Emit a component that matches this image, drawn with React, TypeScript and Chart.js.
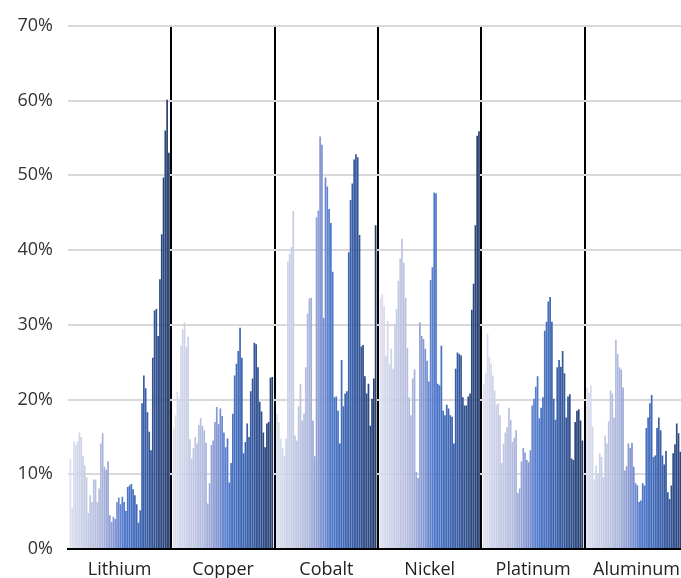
import React, { useEffect, useRef } from "react";
import { Chart, registerables } from "chart.js";

Chart.register(...registerables);

const categories = ["Lithium", "Copper", "Cobalt", "Nickel", "Platinum", "Aluminum"];
const yTicks = [0, 10, 20, 30, 40, 50, 60, 70];

const lithium = [12, 5.5, 14.4, 13.9, 14.4, 15.6, 15, 12.4, 11.2, 9.6, 4.8, 7.2, 6.3, 9.3, 9.3, 6.3, 8.1, 14.1, 15.5, 11, 10.6, 11.7, 4.5, 3.6, 4.3, 4, 6.3, 6.9, 6, 7, 6.3, 5.1, 8.3, 8.5, 8.7, 8, 7.2, 6, 3.5, 5.2, 19.5, 23.2, 21.5, 18.3, 15.7, 13.2, 25.6, 31.9, 32.1, 28.5, 36.1, 42.1, 49.7, 56, 60.1, 53];
const copper = [16.1, 17.9, 21, 19.9, 27.2, 29.4, 30.3, 27, 28.4, 14.7, 12.1, 13.5, 15, 14.1, 16.6, 17.5, 16.5, 15.9, 14.2, 6.1, 8.8, 13.9, 14.5, 17, 19, 16.7, 18.8, 17.8, 15.6, 13.6, 14.8, 8.9, 11.5, 18.1, 23.2, 24.8, 26.5, 29.6, 25.6, 12.8, 14.3, 16.8, 15, 21.1, 22.8, 27.6, 27.4, 24.3, 19.7, 18.4, 15.6, 13.6, 16.8, 17, 22.9, 23];
const cobalt = [18.1, 17, 14.8, 13.5, 12.5, 14.8, 38.5, 39.5, 40.4, 45.2, 15.2, 14.5, 19.1, 22.1, 17.2, 18.1, 24.3, 31.5, 33.5, 33.6, 17.2, 12.4, 44.4, 45.3, 55.2, 54.1, 30.9, 49.7, 48.5, 45.5, 43.6, 37.1, 20.3, 20.4, 18.5, 14.1, 25.3, 19.1, 20.8, 21.1, 39.7, 46.7, 48.9, 52.1, 52.8, 52.4, 42, 27.1, 27.3, 23.1, 20.8, 22.1, 16.5, 20.1, 22.8, 43.3];
const nickel = [33.5, 34.1, 32.5, 25.9, 30.5, 24.8, 26.8, 24.1, 30.1, 32.1, 35.9, 38.9, 41.5, 38.3, 33.6, 26.9, 20.3, 17.9, 22.8, 24, 10.3, 9.5, 30.3, 28.5, 28.1, 26.8, 25.2, 22.4, 36, 37.7, 47.7, 47.6, 22.1, 21.9, 27.2, 18.5, 17.9, 19.3, 18.8, 17.9, 17.7, 14.1, 24.1, 26.3, 26.1, 25.9, 20.3, 19.2, 19.2, 20.4, 20.8, 32, 35.5, 43.3, 55.3, 55.9];
const platinum = [22.1, 23.5, 28.8, 25.7, 24.8, 23.2, 21.2, 19.3, 19.5, 17.9, 11.5, 14.1, 15.6, 16.3, 18.9, 17.3, 14.3, 14.9, 15.9, 7.5, 8.1, 11.7, 13.5, 12.9, 11.9, 11.6, 13.2, 19.2, 20.1, 21.7, 23.1, 17.5, 18.9, 20.3, 29.2, 30.4, 33.1, 33.7, 30.4, 20.1, 17.3, 24.3, 25.3, 24.4, 26.5, 23.5, 17.6, 20.4, 20.7, 12.1, 11.9, 17, 18.5, 18.7, 17.2, 14.5];
const aluminum = [21.6, 20.9, 21.9, 16.4, 9.3, 11.2, 10, 12.8, 12.3, 9.6, 15.2, 14.1, 17.1, 21.2, 20.8, 17.6, 28, 26.1, 24.3, 24, 21.6, 10.5, 11.1, 14.1, 13.5, 14.2, 11, 8.8, 8.5, 6.3, 6.5, 8.8, 8.5, 16.2, 17.6, 19.5, 20.6, 12.3, 12.5, 16.2, 17.6, 15.9, 12.5, 11.3, 13.1, 7.6, 6.7, 8.5, 12.8, 14, 16.8, 15.5, 13, 16, 12, 14];

const series = [lithium, copper, cobalt, nickel, platinum, aluminum];

// colour ramp (style only)
const stops: [number, number[]][] = [
  [0, [220, 223, 238]],
  [0.3, [178, 187, 222]],
  [0.45, [128, 148, 210]],
  [0.55, [76, 120, 204]],
  [0.75, [58, 96, 170]],
  [1, [40, 64, 112]],
];
function rampColor(t: number) {
  for (let i = 1; i < stops.length; i++) {
    if (t <= stops[i][0]) {
      const [t0, c0] = stops[i - 1];
      const [t1, c1] = stops[i];
      const f = (t - t0) / (t1 - t0);
      const c = c0.map((v, k) => Math.round(v + (c1[k] - v) * f));
      return `rgb(${c[0]},${c[1]},${c[2]})`;
    }
  }
  const c = stops[stops.length - 1][1];
  return `rgb(${c[0]},${c[1]},${c[2]})`;
}

const FONT = "'Open Sans', sans-serif";

export default function App() {
  const ref = useRef<HTMLCanvasElement | null>(null);
  useEffect(() => {
    if (!ref.current) return;
    const n = lithium.length;
    const datasets = Array.from({ length: n }, (_, i) => ({
      label: `p${i}`,
      data: series.map((s) => s[i]),
      backgroundColor: rampColor(i / (n - 1)),
      borderWidth: 0,
      barPercentage: 0.95,
      categoryPercentage: 0.97,
    }));
    const chart = new Chart(ref.current, {
      type: "bar",
      data: { labels: categories, datasets },
      options: {
        animation: false,
        responsive: true,
        maintainAspectRatio: false,
        layout: { padding: { top: 24, right: 1, left: 0, bottom: 0 } },
        plugins: { legend: { display: false }, tooltip: { enabled: false } },
        scales: {
          x: {
            z: 1,
            grid: {
              offset: true,
              drawTicks: false,
              lineWidth: 2,
              color: (ctx: any) => (ctx.index === 0 ? "rgba(0,0,0,0)" : "#000"),
            },
            border: { display: true, color: "#000", width: 2 },
            ticks: { padding: 10, color: "#222", font: { family: FONT, size: 18 } },
            afterFit: (s: any) => {
              s.height = 29;
            },
          },
          y: {
            min: 0,
            max: 70,
            afterBuildTicks: (s: any) => {
              s.ticks = yTicks.map((v) => ({ value: v }));
            },
            grid: { color: "#d9d9d9", lineWidth: 2, drawTicks: false },
            border: { display: false },
            ticks: {
              padding: 15,
              color: "#333",
              font: { family: FONT, size: 18 },
              callback: (v: any) => `${v}%`,
            },
            afterFit: (s: any) => {
              s.width = 68;
            },
          },
        },
      },
    });
    return () => chart.destroy();
  }, []);
  return (
    <div style={{ position: "absolute", left: 0, top: 0, width: 681, height: 578, overflow: "hidden", background: "#fff" }}>
      <div style={{ position: "relative", width: 690, height: 578 }}>
        <canvas ref={ref} />
      </div>
    </div>
  );
}
